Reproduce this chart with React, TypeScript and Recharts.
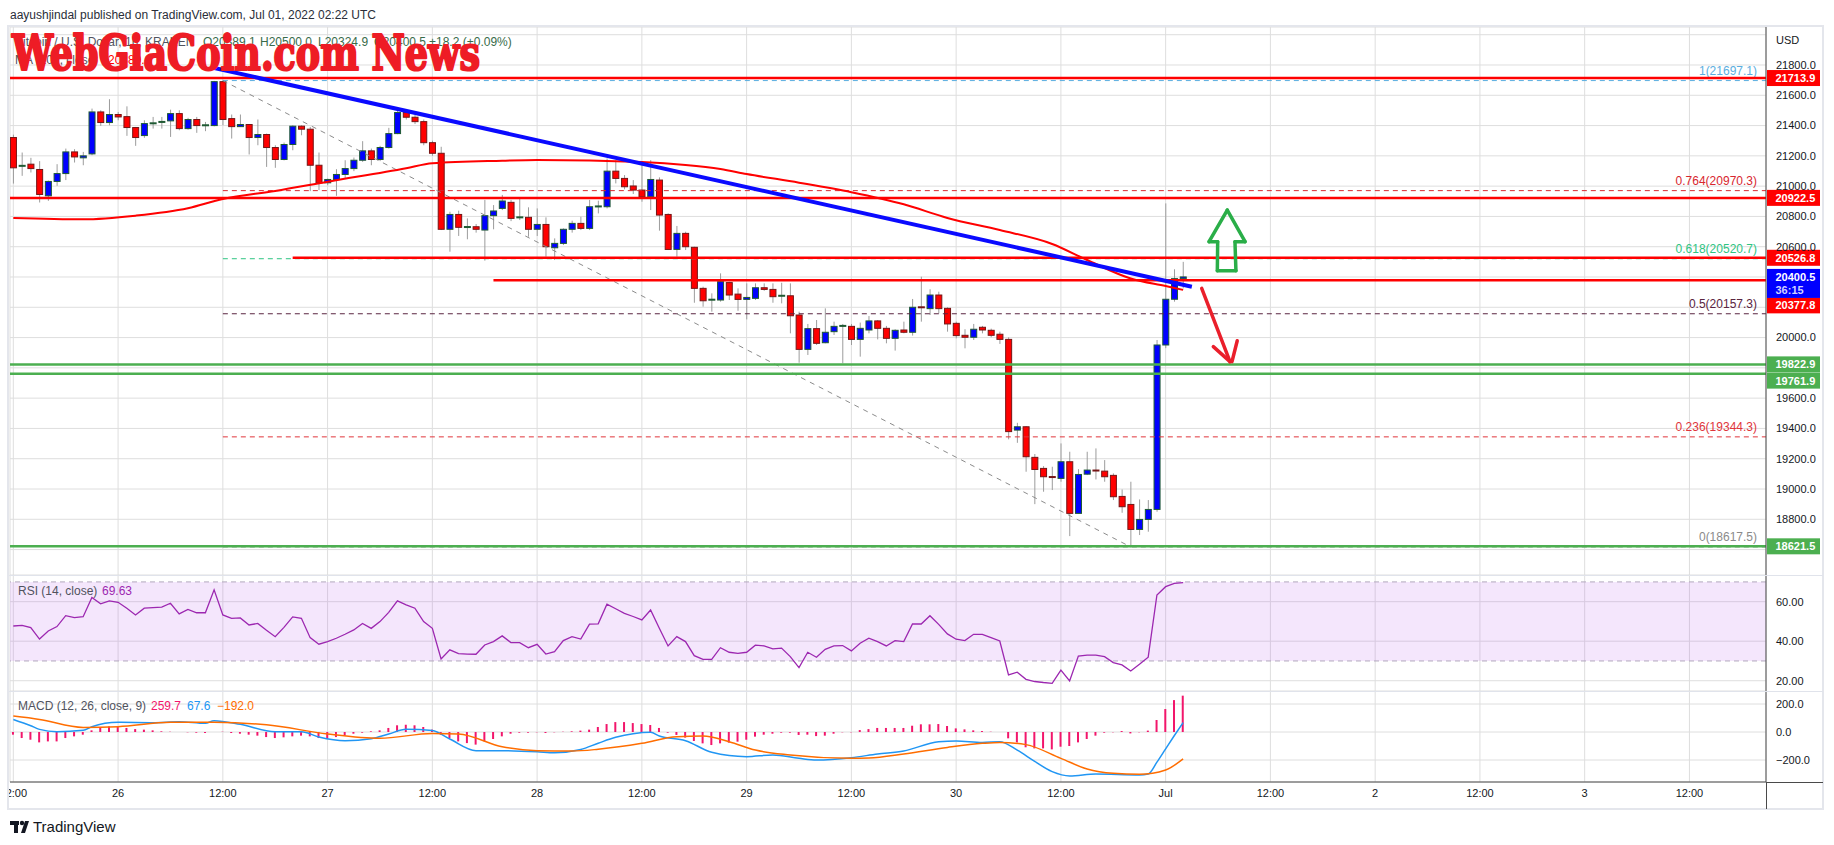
import React from "react";
import {
  ComposedChart,
  Bar,
  Line,
  XAxis,
  YAxis,
  CartesianGrid,
  ReferenceLine,
  ReferenceArea,
} from "recharts";

// ─── layout ───────────────────────────────────────────────
const FONT = "'Liberation Sans', Arial, sans-serif";
const W = 1834;
const PLOT_L = 10;
const AXIS_W = 56;
const PLOT_R = 12;
const X_DOMAIN: [number, number] = [-0.38, 200.77];

// ─── data: hourly BTC/USD candles from Jun 25 12:00 (index = hour) ───
// [open, high, low, close]
const ohlc: [number, number, number, number][] = [
  [21321, 21340, 21017, 21121], [21128, 21222, 21068, 21134], [21145, 21187, 21090, 21116],
  [21110, 21165, 20892, 20945], [20936, 21037, 20903, 21031], [21031, 21145, 21002, 21083],
  [21083, 21248, 21040, 21226], [21226, 21244, 21156, 21193], [21187, 21226, 21138, 21200],
  [21213, 21512, 21204, 21490], [21490, 21501, 21398, 21420], [21420, 21574, 21402, 21473],
  [21473, 21490, 21435, 21457], [21459, 21527, 21332, 21387], [21387, 21391, 21266, 21321],
  [21334, 21435, 21319, 21413], [21413, 21457, 21380, 21415], [21415, 21457, 21380, 21424],
  [21431, 21505, 21325, 21479], [21479, 21501, 21369, 21380], [21380, 21451, 21373, 21440],
  [21440, 21457, 21352, 21400], [21398, 21424, 21363, 21402], [21400, 21695, 21395, 21690],
  [21690, 21697.1, 21402, 21440], [21446, 21473, 21314, 21393], [21393, 21473, 21391, 21407],
  [21407, 21410, 21209, 21321], [21321, 21440, 21270, 21341], [21341, 21347, 21127, 21255],
  [21255, 21270, 21121, 21176], [21176, 21288, 21170, 21275], [21275, 21402, 21237, 21396],
  [21396, 21402, 21336, 21376], [21376, 21391, 20967, 21138], [21138, 21222, 20974, 21022],
  [21022, 21050, 21006, 21044], [21044, 21112, 20936, 21077], [21077, 21171, 21046, 21116],
  [21116, 21189, 21099, 21171], [21171, 21297, 21160, 21233], [21233, 21248, 21138, 21176],
  [21176, 21266, 21165, 21255], [21255, 21385, 21248, 21347], [21347, 21512, 21343, 21486],
  [21486, 21500, 21440, 21455], [21455, 21470, 21410, 21426], [21426, 21440, 21270, 21287],
  [21287, 21300, 21200, 21217], [21217, 21260, 20710, 20715], [20715, 20831, 20567, 20813],
  [20813, 20838, 20671, 20728], [20726, 20787, 20649, 20730], [20732, 20750, 20693, 20715],
  [20710, 20909, 20508, 20805], [20805, 20875, 20715, 20836], [20853, 20942, 20842, 20902],
  [20893, 20909, 20769, 20787], [20785, 20915, 20776, 20794], [20794, 20860, 20666, 20715],
  [20715, 20853, 20671, 20747], [20747, 20794, 20534, 20600], [20593, 20655, 20512, 20622],
  [20622, 20721, 20611, 20715], [20715, 20772, 20693, 20754], [20754, 20798, 20710, 20721],
  [20721, 20909, 20710, 20864], [20862, 20904, 20820, 20866], [20864, 21183, 20853, 21099],
  [21099, 21172, 21018, 21051], [21051, 21073, 20979, 20996], [21001, 21040, 20948, 20974],
  [20974, 21161, 20897, 20930], [20930, 21172, 20842, 21044], [21040, 21058, 20706, 20809],
  [20813, 20820, 20578, 20582], [20582, 20737, 20534, 20688], [20688, 20699, 20578, 20600],
  [20596, 20600, 20230, 20325], [20325, 20336, 20204, 20243], [20246, 20292, 20171, 20250],
  [20248, 20424, 20237, 20369], [20363, 20369, 20248, 20281], [20287, 20325, 20177, 20252],
  [20252, 20358, 20120, 20265], [20259, 20358, 20248, 20329], [20329, 20358, 20309, 20318],
  [20318, 20358, 20230, 20270], [20270, 20362, 20226, 20276], [20276, 20358, 20028, 20144],
  [20149, 20171, 19834, 19922], [19922, 20090, 19885, 20059], [20059, 20116, 19951, 19962],
  [19966, 20193, 19962, 20035], [20039, 20105, 20017, 20074], [20074, 20090, 19830, 20077],
  [20074, 20090, 19951, 19988], [19988, 20099, 19874, 20061], [20050, 20142, 20028, 20110],
  [20110, 20116, 19988, 20061], [20061, 20077, 19962, 19995], [19995, 20055, 19914, 20048],
  [20050, 20105, 20028, 20035], [20035, 20255, 20013, 20200], [20200, 20402, 20105, 20191],
  [20191, 20319, 20149, 20281], [20281, 20303, 20160, 20191], [20193, 20200, 20039, 20090],
  [20094, 20105, 19995, 20013], [20015, 20055, 19929, 20002], [20002, 20090, 19984, 20055],
  [20068, 20077, 20028, 20050], [20048, 20059, 20002, 20015], [20022, 20039, 19958, 19988],
  [19988, 20002, 19328, 19379], [19389, 19437, 19305, 19411], [19411, 19416, 19114, 19213],
  [19209, 19231, 18900, 19129], [19136, 19151, 18982, 19081], [19079, 19147, 18993, 19076],
  [19070, 19301, 19048, 19180], [19180, 19246, 18689, 18839], [18839, 19131, 18839, 19096],
  [19098, 19246, 19092, 19125], [19122, 19268, 19063, 19120], [19118, 19191, 19048, 19081],
  [19090, 19103, 18927, 18949], [18951, 18997, 18843, 18883], [18898, 19048, 18617.5, 18733],
  [18733, 18931, 18696, 18799], [18799, 18927, 18718, 18865], [18865, 19984, 18850, 19951],
  [19951, 20886, 19930, 20253], [20253, 20451, 20237, 20389], [20389.1, 20500, 20324.9, 20400.5],
];

// RSI (14, close), one value per candle
const rsiValues = [
  47.7, 48, 46.9, 41.1, 45.2, 47.4, 52.9, 51.9, 52.4, 62.1, 58.9, 60.4, 59.7, 56.7, 53.3,
  56.7, 57, 57.2, 59.2, 53.8, 56.1, 54.4, 54.4, 66, 53.3, 51.6, 51.8, 48.2, 49, 45.5,
  42.3, 47, 52.3, 51.6, 41.8, 38.5, 39.8, 41.5, 43.5, 45.7, 49, 46.5, 49.9, 54.6, 60.4,
  58.4, 56.7, 49.9, 46.5, 31, 35.6, 33.7, 33.5, 33.4, 38.1, 39.8, 42.7, 39.3, 39.3, 36.7,
  38.4, 33.5, 34.7, 40.3, 42.3, 41.1, 48.6, 48.8, 58.7, 56.4, 54.1, 52.5, 50.8, 55.8, 46.6,
  37.6, 42.3, 39.8, 32.7, 30.8, 30.8, 36.7, 34.4, 33.8, 34.4, 38, 37.6, 36.1, 36.5, 32.2,
  26.6, 34.4, 31.9, 35.9, 37.6, 37.8, 35.1, 39, 41.5, 39.8, 37.6, 40.3, 39.8, 48.7, 48.7,
  52.9, 48.5, 43.7, 41, 40.3, 43.5, 43.5, 41.8, 40.1, 22.9, 24.3, 20.7, 19.6, 19.1, 18.7,
  25.4, 19.9, 32.5, 33, 33, 32.2, 29.2, 28, 24.9, 28.3, 31.9, 63.4, 67.6, 69.3, 69.63,
];

// MACD histogram, one value per candle
const macdHistogram = [
  -19, -43, -55, -74, -67, -67, -43, -31, -19, 12, 29, 40, 36, 29, 21, 17, 12, 5, 2, 0,
  -2, -5, -7, 0, 2, -7, -12, -19, -26, -36, -43, -38, -31, -26, -31, -43, -50, -36, -26, -12,
  -5, 5, 12, 29, 48, 52, 48, 36, 17, -19, -43, -67, -79, -90, -67, -50, -31, -12, -5, -5,
  -2, -7, -2, 2, 5, 10, 17, 36, 57, 71, 71, 64, 57, 50, 29, -5, -21, -40, -64, -81,
  -93, -81, -76, -69, -55, -33, -19, -12, -5, -5, -21, -19, -29, -26, -12, -2, -2, 14, 21, 29,
  29, 29, 29, 45, 55, 55, 57, 43, 26, 19, 12, 7, 2, 0, -45, -74, -109, -117, -117, -124,
  -105, -100, -74, -50, -26, -5, -2, 7, -10, -2, 10, 86, 164, 228, 259.7,
];

// [candle index, value]
const maPoints: [number, number][] = [
  [0, 20790], [8, 20781], [14, 20805], [20, 20854], [24, 20915], [30, 20968], [36, 21029],
  [45, 21118], [48, 21151], [56, 21168], [60, 21173], [72, 21159], [77, 21140], [81, 21113],
  [84, 21080], [90, 21023], [96, 20960], [102, 20880], [107, 20790], [113, 20710],
  [119, 20618], [123, 20512], [128, 20390], [132, 20340], [134, 20315],
];
const macdPoints: [number, number][] = [
  [0, 90], [2, 45], [3, 19], [5, 2], [8, 12], [9, 38], [12, 69], [16, 67], [19, 74], [22, 62],
  [23, 81], [26, 55], [30, 2], [33, 2], [35, -35], [38, -62], [41, -48], [43, -14], [45, 19],
  [48, 10], [50, -50], [53, -133], [56, -133], [60, -141], [62, -148], [65, -125], [67, -80],
  [69, -38], [71, -12], [73, -2], [74, -29], [77, -62], [80, -145], [84, -176], [87, -164],
  [90, -188], [92, -200], [96, -183], [99, -157], [102, -136], [106, -69], [108, -64],
  [111, -74], [113, -69], [115, -130], [117, -210], [119, -283], [121, -314], [124, -300],
  [129, -307], [130, -300], [131, -215], [132, -120], [133, -25], [134, 67.6],
];
const signalPoints: [number, number][] = [
  [0, 114], [3, 90], [8, 33], [12, 38], [18, 69], [23, 69], [29, 52], [36, -14], [42, -45],
  [48, -10], [51, -14], [56, -105], [60, -133], [64, -136], [67, -123], [72, -81], [76, -33],
  [79, -29], [82, -69], [85, -129], [89, -164], [96, -188], [98, -186], [102, -157],
  [107, -110], [111, -81], [113, -74], [116, -90], [120, -188], [123, -264], [126, -295],
  [129, -302], [132, -271], [134, -192],
];

// axes
const timeTicks = [0, 12, 24, 36, 48, 60, 72, 84, 96, 108, 120, 132, 144, 156, 168, 180, 192];
const timeLabels = ["12:00", "26", "12:00", "27", "12:00", "28", "12:00", "29", "12:00", "30",
  "12:00", "Jul", "12:00", "2", "12:00", "3", "12:00"];
const priceTicks = [18600, 18800, 19000, 19200, 19400, 19600, 19800, 20000, 20200, 20400,
  20600, 20800, 21000, 21200, 21400, 21600, 21800, 22000];
const hiddenPriceTicks = [22000, 20400, 20200, 19800, 18600];

// drawn levels
const redLevels = [
  { price: 21713.9, from: null as number | null },
  { price: 20922.5, from: null },
  { price: 20526.8, from: 32 },
  { price: 20377.8, from: 55 },
];
const greenLevels = [19822.9, 19761.9, 18621.5];
const fibLevels = [
  { label: "1(21697.1)", price: 21697.1, color: "#5aaee0" },
  { label: "0.764(20970.3)", price: 20970.3, color: "#d8262e" },
  { label: "0.618(20520.7)", price: 20520.7, color: "#2ec482" },
  { label: "0.5(20157.3)", price: 20157.3, color: "#5a2440" },
  { label: "0.236(19344.3)", price: 19344.3, color: "#e0353b" },
  { label: "0(18617.5)", price: 18617.5, color: "#8a8a8a" },
];
const priceTags = [
  { price: 21713.9, text: "21713.9", bg: "#ff0000", dy: 0 },
  { price: 20922.5, text: "20922.5", bg: "#ff0000", dy: 0 },
  { price: 20526.8, text: "20526.8", bg: "#ff0000", dy: 0 },
  { price: 20377.8, text: "20377.8", bg: "#ff0000", dy: 25 },
  { price: 19822.9, text: "19822.9", bg: "#4caf50", dy: 0 },
  { price: 19761.9, text: "19761.9", bg: "#4caf50", dy: 7 },
  { price: 18621.5, text: "18621.5", bg: "#4caf50", dy: 0 },
];
const lastPrice = { price: 20400.5, text: "20400.5", countdown: "36:15" };
const trendLine: [number, number][] = [[22.9, 21782], [135, 20336]];
const fibDiagonal: [number, number][] = [[24, 21697.1], [128, 18617.5]];
const upArrow: [number, number][] = [
  [139.06, 20842], [141.1, 20633], [139.94, 20633], [140.05, 20442],
  [137.92, 20442], [137.96, 20633], [136.97, 20633], [139.06, 20842],
];
const downArrow: [number, number][][] = [
  [[136.13, 20325], [139.37, 19841]],
  [[137.46, 19940], [139.37, 19841]],
  [[140.2, 19979], [139.6, 19841]],
];

const candles = ohlc.map(([o, h, l, c], k) => ({
  k, o, h, l, c, range: [l, h], rsi: rsiValues[k], hist: macdHistogram[k],
}));
const toPts = (arr: [number, number][]) => arr.map(([k, v]) => ({ k, v }));

const tickStyle = { fill: "#131722", fontSize: 11, fontFamily: FONT };

const Candle = (props: any) => {
  const { x, y, width, height, payload } = props;
  if (x == null || !payload) return null;
  const { o, h, l, c } = payload;
  const top = Math.min(y, y + height);
  const hh = Math.abs(height);
  const cx = x + width / 2;
  const py = (v: number) => (h === l ? top : top + ((h - v) / (h - l)) * hh);
  const up = c >= o;
  const y1 = py(Math.max(o, c));
  const y2 = py(Math.min(o, c));
  const border = up ? "#1f5a33" : "#751515";
  return (
    <g>
      <line x1={cx} x2={cx} y1={top} y2={top + hh} stroke="#9c9c9c" strokeWidth={1} />
      {y2 - y1 < 1.5 ? (
        <rect x={cx - 3.5} y={y1 - 1} width={7} height={2} fill={border} />
      ) : (
        <rect x={cx - 3} y={y1} width={6} height={y2 - y1} fill={up ? "#0000ff" : "#ff0000"}
          stroke={border} strokeWidth={1} />
      )}
    </g>
  );
};

const PriceTag = ({ viewBox, text, bg, dy = 0, sub }: any) => {
  if (!viewBox) return null;
  const x = viewBox.x + viewBox.width;
  const cy = viewBox.y + dy;
  return (
    <g>
      <rect x={x + 1} y={cy - 8} width={53} height={sub ? 29 : 16} fill={bg} />
      <text x={x + 9.5} y={cy + 4} fill="#fff" fontSize={11} fontWeight={700} fontFamily={FONT}>{text}</text>
      {sub && (
        <text x={x + 9.5} y={cy + 17.5} fill="#d0d0ff" fontSize={11} fontWeight={700} fontFamily={FONT}>{sub}</text>
      )}
    </g>
  );
};

const FibLabel = ({ viewBox, text, color }: any) => {
  if (!viewBox) return null;
  return (
    <text x={viewBox.x + viewBox.width - 9} y={viewBox.y - 6} textAnchor="end" fill={color}
      fontSize={12} fontFamily={FONT}>{text}</text>
  );
};

const seg = (a: [number, number], b: [number, number]) => [{ x: a[0], y: a[1] }, { x: b[0], y: b[1] }];

export default function App() {
  const margin = { top: 0, right: PLOT_R, bottom: 0, left: PLOT_L };
  return (
    <div style={{ position: "relative", width: W, height: 845, background: "#fff", fontFamily: FONT }}>
      <style>{"body{margin:0;background:#fff}"}</style>

      {/* ─ price pane ─ */}
      <div style={{ position: "absolute", left: 0, top: 27 }}>
        <ComposedChart width={W} height={548} data={candles} margin={margin}>
          <CartesianGrid stroke="#dedede" />
          <XAxis type="number" dataKey="k" domain={X_DOMAIN} ticks={timeTicks} allowDataOverflow hide />
          <YAxis orientation="right" width={AXIS_W} domain={[18432.1, 22050.9]} ticks={priceTicks}
            allowDataOverflow tick={tickStyle} tickSize={0} tickMargin={10} axisLine={{ stroke: "#4a4a4a" }}
            tickFormatter={(v: number) => (hiddenPriceTicks.includes(v) ? "" : v.toFixed(1))} />

          {fibLevels.map((f) => (
            <ReferenceLine key={f.label} segment={seg([24, f.price], [X_DOMAIN[1], f.price])}
              stroke={f.color} strokeDasharray="5 4" strokeWidth={1}
              label={(p: any) => <FibLabel {...p} text={f.label} color={f.color} />} />
          ))}
          <ReferenceLine segment={seg(fibDiagonal[0], fibDiagonal[1])} stroke="#8c8c8c" strokeDasharray="5 5" />

          <Bar dataKey="range" barSize={7} shape={Candle} isAnimationActive={false} />
          <Line data={toPts(maPoints)} dataKey="v" type="monotone" stroke="#ff0000" strokeWidth={2}
            dot={false} isAnimationActive={false} />

          {redLevels.map((r) => (
            <ReferenceLine key={r.price}
              {...(r.from == null ? { y: r.price } : { segment: seg([r.from, r.price], [X_DOMAIN[1], r.price]) })}
              stroke="#ff0000" strokeWidth={2.5} />
          ))}
          {greenLevels.map((g) => (
            <ReferenceLine key={g} y={g} stroke="#4caf50" strokeWidth={2.5} />
          ))}
          <ReferenceLine segment={seg(trendLine[0], trendLine[1])} stroke="#0a0aff" strokeWidth={4} />

          {upArrow.slice(1).map((pt, i) => (
            <ReferenceLine key={"u" + i} segment={seg(upArrow[i], pt)} stroke="#2aae48" strokeWidth={3.5} strokeLinecap="round" />
          ))}
          {downArrow.map((s, i) => (
            <ReferenceLine key={"d" + i} segment={seg(s[0], s[1])} stroke="#ea1f2b" strokeWidth={3.5} strokeLinecap="round" />
          ))}

          {priceTags.map((t) => (
            <ReferenceLine key={"t" + t.text} y={t.price} stroke="none"
              label={(p: any) => <PriceTag {...p} text={t.text} bg={t.bg} dy={t.dy} />} />
          ))}
          <ReferenceLine y={lastPrice.price} stroke="none"
            label={(p: any) => <PriceTag {...p} text={lastPrice.text} bg="#0000ff" sub={lastPrice.countdown} />} />
        </ComposedChart>
      </div>

      {/* ─ RSI pane ─ */}
      <div style={{ position: "absolute", left: 0, top: 575 }}>
        <ComposedChart width={W} height={116} data={candles} margin={margin}>
          <CartesianGrid stroke="#dedede" />
          <XAxis type="number" dataKey="k" domain={X_DOMAIN} ticks={timeTicks} allowDataOverflow hide />
          <YAxis orientation="right" width={AXIS_W} domain={[14.8, 73.5]} ticks={[20, 40, 60]}
            allowDataOverflow tick={tickStyle} tickSize={0} tickMargin={10} axisLine={{ stroke: "#4a4a4a" }}
            tickFormatter={(v: number) => v.toFixed(2)} />
          <ReferenceArea y1={30} y2={70} fill="#b45ae8" fillOpacity={0.15} stroke="none" />
          <ReferenceLine y={70} stroke="#b2a7bd" strokeDasharray="5 4" />
          <ReferenceLine y={30} stroke="#b2a7bd" strokeDasharray="5 4" />
          <Line dataKey="rsi" type="linear" stroke="#9c27b0" strokeWidth={1.3} dot={false} isAnimationActive={false} />
        </ComposedChart>
      </div>

      {/* ─ MACD pane + time axis ─ */}
      <div style={{ position: "absolute", left: 0, top: 691 }}>
        <ComposedChart width={W} height={117} data={candles} margin={margin}>
          <CartesianGrid stroke="#dedede" />
          <XAxis type="number" dataKey="k" domain={X_DOMAIN} ticks={timeTicks} allowDataOverflow
            interval={0} height={26} tick={tickStyle} tickSize={0} tickMargin={7}
            axisLine={{ stroke: "#4a4a4a" }}
            tickFormatter={(v: number) => timeLabels[timeTicks.indexOf(v)] ?? ""} />
          <YAxis orientation="right" width={AXIS_W} domain={[-357, 293]} ticks={[-200, 0, 200]}
            allowDataOverflow tick={tickStyle} tickSize={0} tickMargin={10} axisLine={{ stroke: "#4a4a4a" }}
            tickFormatter={(v: number) => (v < 0 ? "\u2212" + Math.abs(v).toFixed(1) : v.toFixed(1))} />
          <Bar dataKey="hist" barSize={2} fill="#f2166b" isAnimationActive={false} />
          <Line data={toPts(macdPoints)} dataKey="v" type="monotone" stroke="#2196f3" strokeWidth={1.5}
            dot={false} isAnimationActive={false} />
          <Line data={toPts(signalPoints)} dataKey="v" type="monotone" stroke="#ff6d00" strokeWidth={1.5}
            dot={false} isAnimationActive={false} />
        </ComposedChart>
      </div>

      {/* ─ overlay: frame, legends, watermark ─ */}
      <svg width={W} height={845} style={{ position: "absolute", left: 0, top: 0, pointerEvents: "none" }}>
        <rect x={0} y={783} width={9} height={25} fill="#fff" />
        <rect x={8} y={26} width={1815} height={783} fill="none" stroke="#e4e6ec" strokeWidth={2} />
        <line x1={9} x2={1823} y1={575.5} y2={575.5} stroke="#e0e3eb" />
        <line x1={9} x2={1823} y1={691.5} y2={691.5} stroke="#e0e3eb" />
        <line x1={1766} x2={1823} y1={782.5} y2={782.5} stroke="#4a4a4a" />
        <line x1={1766.5} x2={1766.5} y1={782} y2={809} stroke="#4a4a4a" />

        <text x={10} y={19} fontSize={12} fill="#2a2e39" fontFamily={FONT}>
          aayushjindal published on TradingView.com, Jul 01, 2022 02:22 UTC
        </text>
        <text x={1776} y={44} fontSize={11} fill="#131722" fontFamily={FONT}>USD</text>

        <g fontSize={12} fontFamily={FONT}>
          <text x={15} y={46} fill="#50535e">Bitcoin / U.S. Dollar, 1h, KRAKEN</text>
          <text x={203} y={46} fill="#386b4a">O20389.1</text>
          <text x={260} y={46} fill="#386b4a">H20500.0</text>
          <text x={318} y={46} fill="#386b4a">L20324.9</text>
          <text x={374} y={46} fill="#386b4a">C20400.5</text>
          <text x={429} y={46} fill="#386b4a">+18.2 (+0.09%)</text>
          <text x={15} y={64} fill="#50535e">MA (100, close)</text>
          <text x={108} y={64} fill="#ff0000">20380.1</text>
        </g>

        <text x={12} y={70} fontSize={49} fontWeight={700} fill="#ee1c25" stroke="#ee1c25"
          strokeWidth={2.2} strokeLinejoin="round"
          fontFamily="'DejaVu Serif Condensed', 'DejaVu Serif', serif" textLength={468}
          lengthAdjust="spacingAndGlyphs">WebGiaCoin.com News</text>

        <g fontSize={12} fontFamily={FONT}>
          <text x={18} y={595} fill="#50535e">RSI (14, close)</text>
          <text x={102} y={595} fill="#9c27b0">69.63</text>
          <text x={18} y={710} fill="#50535e">MACD (12, 26, close, 9)</text>
          <text x={151} y={710} fill="#f2166b">259.7</text>
          <text x={187} y={710} fill="#2196f3">67.6</text>
          <text x={217} y={710} fill="#ff6d00">{"\u2212192.0"}</text>
        </g>

        <g fill="#131722">
          <rect x={10} y={821} width={9} height={4} />
          <rect x={14} y={821} width={4} height={12} />
          <circle cx={22} cy={823} r={2.2} />
          <path d="M25 821 L29 821 L25 833 L21 833 Z" />
        </g>
        <text x={33} y={832} fontSize={15} fill="#131722" fontFamily={FONT}>TradingView</text>
      </svg>
    </div>
  );
}
